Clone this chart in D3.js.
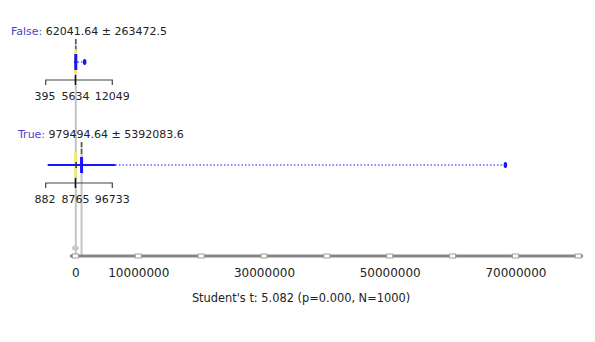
<!DOCTYPE html>
<html>
<head>
<meta charset="utf-8">
<script src="https://cdn.jsdelivr.net/npm/d3@7"></script>
<style>
  body { margin: 0; background: #fff; }
  svg { display: block; font-family: "DejaVu Sans", sans-serif; }
</style>
</head>
<body>
<script>
var groups = ['False', 'True'],
    means = [62041.64, 979494.64],
    sds = [263472.5, 5392083.6],
    q1s = [395, 882],
    medians = [5634, 8765],
    q3s = [12049, 96733],
    maxs = [1470000, 68400000],
    tickValues = d3.range(0, 80000001, 10000000),
    tickLabels = [0, 10000000, 30000000, 50000000, 70000000],
    testLabel = "Student's t: 5.082 (p=0.000, N=1000)";

(function () {
    var width = 595,
        height = 342,
        axisY = 256,
        rowY = [62, 165],
        labelX = [11, 18],
        blue = '#1515ff',
        svg, x, rows;

    svg = d3.select('body').append('svg').attr('width', width).attr('height', height);

    x = d3.scaleLinear().domain([0, 80000000]).range([75.4, 578.3]);

    // mean lines running down to the axis
    svg.selectAll('line.meanline').data(groups).enter().append('line')
        .attr('class', 'meanline')
        .attr('x1', function (d, i) { return x(means[i]); })
        .attr('x2', function (d, i) { return x(means[i]); })
        .attr('y1', function (d, i) { return rowY[i] - 23; })
        .attr('y2', axisY)
        .attr('stroke', '#c4c4c4').attr('stroke-width', 2);

    svg.append('ellipse')
        .attr('cx', x(0)).attr('cy', axisY - 8)
        .attr('rx', 3.5).attr('ry', 2.5)
        .attr('fill', '#c8c8c8');

    rows = svg.selectAll('g.row').data(groups).enter().append('g')
        .attr('class', 'row')
        .attr('transform', function (d, i) { return 'translate(0,' + rowY[i] + ')'; });

    rows.append('line')
        .attr('x1', function (d, i) { return x(means[i]); })
        .attr('x2', function (d, i) { return x(means[i]); })
        .attr('y1', -23).attr('y2', -9)
        .attr('stroke', '#555').attr('stroke-width', 1.5)
        .attr('stroke-dasharray', '5,2');

    // median
    rows.append('line')
        .attr('x1', function (d, i) { return x(medians[i]); })
        .attr('x2', function (d, i) { return x(medians[i]); })
        .attr('y1', -13).attr('y2', 12)
        .attr('stroke', '#f4ee5a').attr('stroke-width', 2.5);

    // quartile box
    rows.append('rect')
        .attr('x', function (d, i) { return x(q1s[i]); })
        .attr('width', function (d, i) { return Math.max(1.5, x(q3s[i]) - x(q1s[i])); })
        .attr('y', -3).attr('height', 6)
        .attr('fill', '#333');

    // whisker to max
    rows.append('line')
        .attr('x1', function (d, i) { return x(means[i] + sds[i]); })
        .attr('x2', function (d, i) { return x(maxs[i]); })
        .attr('y1', 0).attr('y2', 0)
        .attr('stroke', blue).attr('stroke-width', 1.2)
        .attr('stroke-dasharray', '1.5,2');

    rows.append('ellipse')
        .attr('cx', function (d, i) { return x(maxs[i]); })
        .attr('cy', 0).attr('rx', 1.8).attr('ry', 3)
        .attr('fill', blue);

    // mean +- sd
    rows.append('line')
        .attr('x1', function (d, i) { return x(means[i] - sds[i]); })
        .attr('x2', function (d, i) { return x(means[i] + sds[i]); })
        .attr('y1', 0).attr('y2', 0)
        .attr('stroke', blue).attr('stroke-width', 2);

    rows.append('rect')
        .attr('x', function (d, i) { return x(means[i]) - 1.5; })
        .attr('width', 3)
        .attr('y', -8).attr('height', 16)
        .attr('fill', blue);

    // group label
    rows.append('text')
        .attr('x', function (d, i) { return labelX[i]; })
        .attr('y', -27)
        .attr('font-size', '11px')
        .attr('fill', '#222')
        .each(function (d, i) {
            var t = d3.select(this);
            t.append('tspan').attr('fill', '#4a3fd0').text(d + ': ');
            t.append('tspan').text(d3.format('.2f')(means[i]) + ' \u00b1 ' + sds[i]);
        });

    // quartile bracket
    rows.append('path')
        .attr('d', 'M45.7,23V18H112.3V23')
        .attr('fill', 'none').attr('stroke', '#444').attr('stroke-width', 1.2);

    rows.append('line')
        .attr('x1', function (d, i) { return x(medians[i]); })
        .attr('x2', function (d, i) { return x(medians[i]); })
        .attr('y1', 13).attr('y2', 23)
        .attr('stroke', '#111').attr('stroke-width', 1.5);

    rows.selectAll('text.q').data(function (d, i) {
        return [[45, q1s[i]], [x(medians[i]), medians[i]], [112.3, q3s[i]]];
    }).enter().append('text')
        .attr('class', 'q')
        .attr('x', function (d) { return d[0]; })
        .attr('y', 37.5)
        .attr('text-anchor', 'middle')
        .attr('font-size', '11px')
        .attr('fill', '#222')
        .text(function (d) { return d[1]; });

    // axis
    svg.append('line')
        .attr('x1', 70).attr('x2', 583)
        .attr('y1', axisY).attr('y2', axisY)
        .attr('stroke', '#858585').attr('stroke-width', 3);

    svg.selectAll('rect.tick').data(tickValues).enter().append('rect')
        .attr('class', 'tick')
        .attr('x', function (d) { return x(d) - 3; })
        .attr('y', axisY - 2)
        .attr('width', 6).attr('height', 4)
        .attr('fill', '#fff').attr('stroke', '#a0a0a0').attr('stroke-width', 1);

    var axis = svg.append('g')
        .attr('transform', 'translate(0,' + axisY + ')')
        .call(d3.axisBottom(x).tickValues(tickLabels).tickSize(0).tickPadding(12).tickFormat(d3.format('d')));
    axis.select('.domain').remove();
    axis.selectAll('text')
        .attr('font-family', '"DejaVu Sans", sans-serif')
        .attr('font-size', '12px')
        .attr('fill', '#222');

    svg.append('text')
        .attr('x', 301).attr('y', 302)
        .attr('text-anchor', 'middle')
        .attr('font-size', '11.4px')
        .attr('fill', '#222')
        .text(testLabel);
}());
</script>
</body>
</html>
